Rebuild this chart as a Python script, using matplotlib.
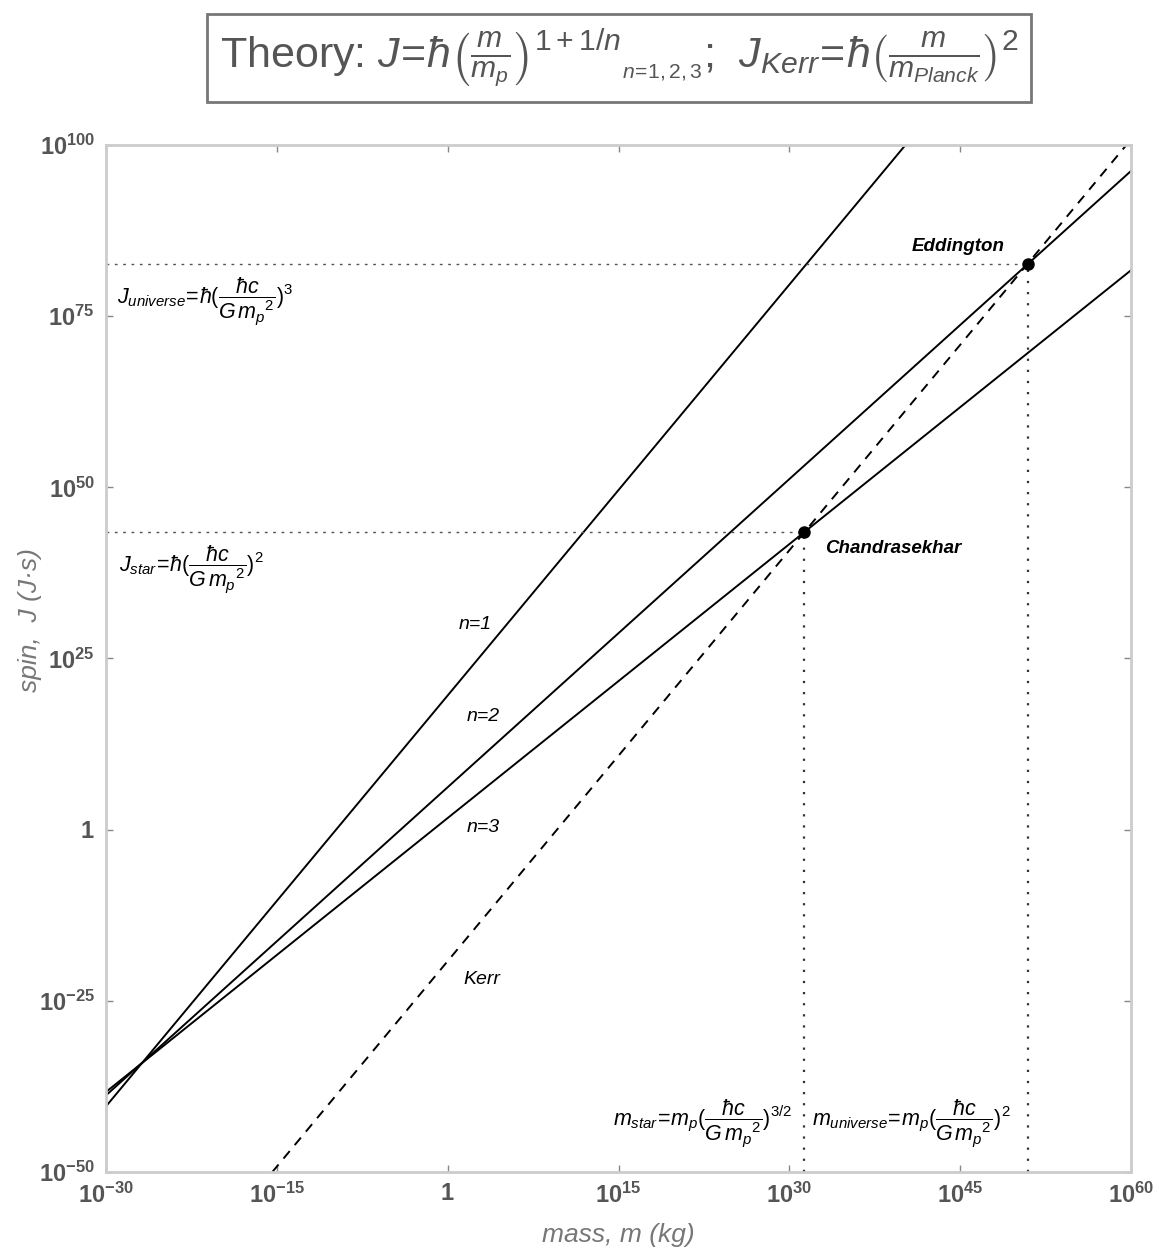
import matplotlib.pyplot as plt

plt.rcParams['mathtext.fontset'] = 'custom'
plt.rcParams['mathtext.rm'] = 'Liberation Sans'
plt.rcParams['mathtext.it'] = 'Liberation Sans:italic'
plt.rcParams['mathtext.bf'] = 'Liberation Sans:bold'
plt.rcParams['font.family'] = ['Liberation Sans', 'DejaVu Sans']

# end points of each theory line (log-log straight lines)
n1_mass = [1e-30, 10**40.2]
n1_spin = [10**-40.4, 1e100]
n2_mass = [1e-30, 1e60]
n2_spin = [10**-38.8, 10**96.2]
n3_mass = [1e-30, 1e60]
n3_spin = [10**-38.3, 10**81.7]
kerr_mass = [10**-15.4, 10**59.6]
kerr_spin = [1e-50, 1e100]

# the two marked points
point_names = ["Chandrasekhar", "Eddington"]
point_mass = [10**31.3, 10**51.0]
point_spin = [10**43.5, 10**82.6]

# ticks
x_ticks = [1e-30, 1e-15, 1, 1e15, 1e30, 1e45, 1e60]
x_labels = ["10^{-30}", "10^{-15}", "1", "10^{15}", "10^{30}", "10^{45}", "10^{60}"]
y_ticks = [1e-50, 1e-25, 1, 1e25, 1e50, 1e75, 1e100]
y_labels = ["10^{-50}", "10^{-25}", "1", "10^{25}", "10^{50}", "10^{75}", "10^{100}"]

fig = plt.figure(figsize=(11.59, 12.52), dpi=100)
ax = fig.add_axes([0.0915, 0.0639, 0.8843, 0.8203])
ax.set_xscale('log')
ax.set_yscale('log')

# theory lines
ax.plot(n1_mass, n1_spin, color='black', lw=1.4)
ax.plot(n2_mass, n2_spin, color='black', lw=1.4)
ax.plot(n3_mass, n3_spin, color='black', lw=1.4)
ax.plot(kerr_mass, kerr_spin, color='black', lw=1.4, linestyle=(0, (5, 4)))

# reference lines for the two points
for m, j in zip(point_mass, point_spin):
    ax.plot([1e-30, m], [j, j], color='#555555', lw=1.0, linestyle=(0, (2, 4)))
    ax.plot([m, m], [1e-50, j], color='#333333', lw=1.6, linestyle=(0, (1, 4)))
ax.plot(point_mass, point_spin, 'o', color='black', markersize=8)

ax.set_xlim(1e-30, 1e60)
ax.set_ylim(1e-50, 1e100)

# frame and ticks
for s in ax.spines.values():
    s.set_color('#cccccc')
    s.set_linewidth(2)
ax.set_xticks(x_ticks)
ax.set_xticklabels([r"$\mathbf{%s}$" % t for t in x_labels])
ax.set_yticks(y_ticks)
ax.set_yticklabels([r"$\mathbf{%s}$" % t for t in y_labels])
ax.minorticks_off()
ax.tick_params(direction='in', length=5, width=1, color='#888888',
               labelsize=17, labelcolor='#555555', top=True, right=True, pad=8)

# line labels
lab = dict(transform=ax.transAxes, fontsize=14, style='italic', ha='center', va='center')
ax.text(0.360, 0.533, "n=1", **lab)
ax.text(0.368, 0.444, "n=2", **lab)
ax.text(0.368, 0.335, "n=3", **lab)
ax.text(0.367, 0.187, "Kerr", **lab)
ax.text(0.831, 0.901, point_names[1], transform=ax.transAxes, fontsize=13.5,
        style='italic', weight='bold', ha='center', va='center')
ax.text(0.768, 0.607, point_names[0], transform=ax.transAxes, fontsize=13.5,
        style='italic', weight='bold', ha='center', va='center')

# formulas
frm = dict(transform=ax.transAxes, fontsize=15.5, va='center')
ax.text(0.011, 0.848, r"$J_{universe}\!=\!\hbar(\dfrac{\hbar c}{G\,m_p{}^2})^3$", ha='left', **frm)
ax.text(0.013, 0.587, r"$J_{star}\!=\!\hbar(\dfrac{\hbar c}{G\,m_p{}^2})^2$", ha='left', **frm)
ax.text(0.670, 0.048, r"$m_{star}\!=\!m_p(\dfrac{\hbar c}{G\,m_p{}^2})^{3/2}$", ha='right', **frm)
ax.text(0.689, 0.048, r"$m_{universe}\!=\!m_p(\dfrac{\hbar c}{G\,m_p{}^2})^{2}$", ha='left', **frm)

# axis labels
fig.text(30 / 1159, 1 - 620 / 1252, "spin,  J (J·s)", rotation=90, ha='center', va='center',
         fontsize=19, style='italic', color='#777777')
fig.text(618 / 1159, 1 - 1235 / 1252, "mass, m (kg)", ha='center', va='center',
         fontsize=19, style='italic', color='#777777')

# title box
fig.text(619 / 1159, 1 - 58 / 1252,
         r"Theory: $J\!=\!\hbar\left(\frac{m}{m_p}\right)^{1+1/n}{}_{_{n\!=\!1,2,3}}$;  "
         r"$J_{Kerr}\!=\!\hbar\left(\frac{m}{m_{Planck}}\right)^{2}$",
         ha='center', va='center', fontsize=31, color='#555555',
         bbox=dict(boxstyle='square,pad=0.3', facecolor='white', edgecolor='#777777', lw=2))

plt.savefig('out.png', dpi=100)
